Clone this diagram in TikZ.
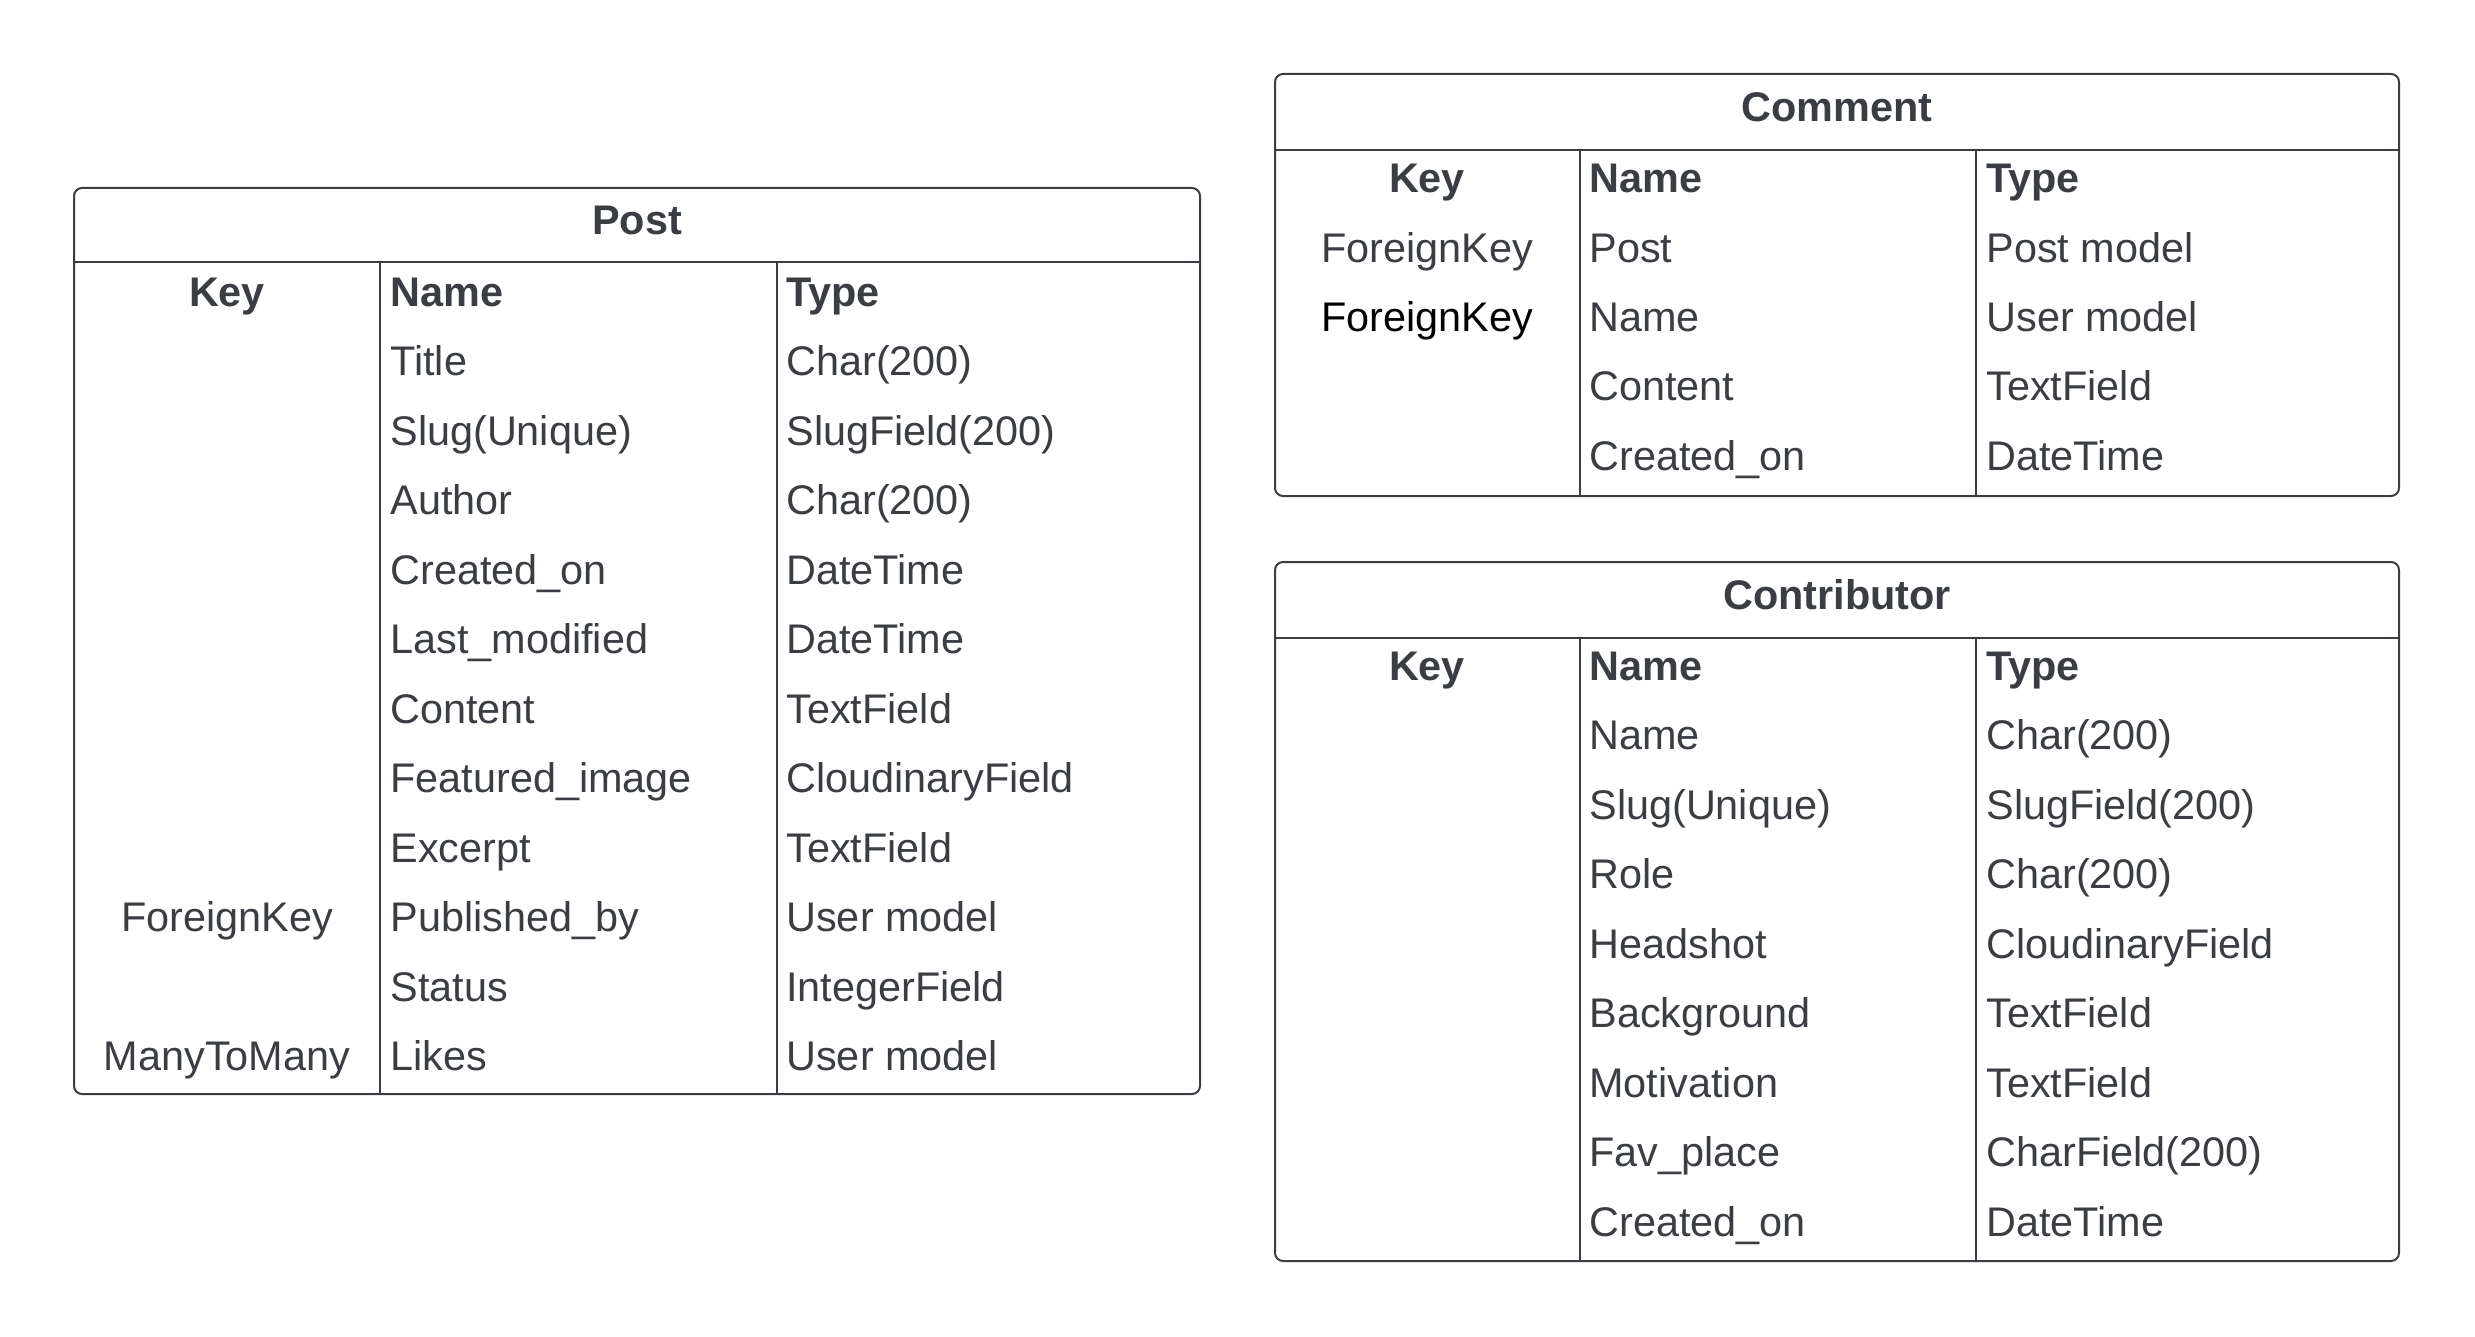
\documentclass[tikz,border=0pt]{standalone}
\usepackage{fontspec}
\setmainfont{Liberation Sans}
\usepackage{xcolor}
\definecolor{lucidgrey}{RGB}{58,61,66}
\usepackage{tikz}
\usetikzlibrary{positioning}

\begin{document}
\begin{tikzpicture}[
    % GLOBAL CFG
    x=0.5pt, y=-0.5pt,
    font=\fontsize{20.7}{24}\selectfont,
    text=lucidgrey,
    % Styles
    frame/.style={% For the table boxes
        draw=lucidgrey,
        line width=1pt,
        rounded corners=4pt,
        },
    rule/.style={% For the inner lines
        draw=lucidgrey,
        line width=0.9pt,
        },
    title/.style={% Table name
        font=\fontsize{20.7}{24}\selectfont\bfseries,
        inner sep=0pt,
        },
    head/.style={% Column heads
        font=\fontsize{20.7}{24}\selectfont\bfseries,
        inner sep=0pt,
        anchor=mid west,
        yshift=-4.5pt,
        },
    keycell/.style={% Key column, centred
        inner sep=0pt,
        anchor=mid,
        yshift=-4.5pt,
        },
    cell/.style={% Name and Type columns
        inner sep=0pt,
        anchor=mid west,
        yshift=-4.5pt,
        },
    ]
\useasboundingbox (0,0) rectangle (2475,1337);

%Post table
    \draw [frame] (74,188) rectangle (1200,1094);
    \draw [rule] (74,262) -- (1200,262);
    \draw [rule] (380,262) -- (380,1094);
    \draw [rule] (777,262) -- (777,1094);
    \node [title] (post) at (637,220) {Post};

    % heads
    \node [head, anchor=mid] (pk0) at (227,292) {Key};
    \node [head] (pn0) at (390,292) {Name};
    \node [head] (pt0) at (786,292) {Type};

    % rows
    \node [cell] (pn1) at (390,361) {Title};
    \node [cell] (pt1) at (786,361) {Char(200)};
    \node [cell] (pn2) at (390,431) {Slug(Unique)};
    \node [cell] (pt2) at (786,431) {SlugField(200)};
    \node [cell] (pn3) at (390,500) {Author};
    \node [cell] (pt3) at (786,500) {Char(200)};
    \node [cell] (pn4) at (390,570) {Created\_on};
    \node [cell] (pt4) at (786,570) {DateTime};
    \node [cell] (pn5) at (390,639) {Last\_modified};
    \node [cell] (pt5) at (786,639) {DateTime};
    \node [cell] (pn6) at (390,709) {Content};
    \node [cell] (pt6) at (786,709) {TextField};
    \node [cell] (pn7) at (390,778) {Featured\_image};
    \node [cell] (pt7) at (786,778) {CloudinaryField};
    \node [cell] (pn8) at (390,848) {Excerpt};
    \node [cell] (pt8) at (786,848) {TextField};
    \node [keycell] (pk9) at (227,917) {ForeignKey};
    \node [cell] (pn9) at (390,917) {Published\_by};
    \node [cell] (pt9) at (786,917) {User model};
    \node [cell] (pn10) at (390,987) {Status};
    \node [cell] (pt10) at (786,987) {IntegerField};
    \node [keycell] (pk11) at (227,1056) {ManyToMany};
    \node [cell] (pn11) at (390,1056) {Likes};
    \node [cell] (pt11) at (786,1056) {User model};

%Comment table
    \draw [frame] (1275,74) rectangle (2399,496);
    \draw [rule] (1275,150) -- (2399,150);
    \draw [rule] (1580,150) -- (1580,496);
    \draw [rule] (1976,150) -- (1976,496);
    \node [title] (comment) at (1837,107) {Comment};

    % heads
    \node [head, anchor=mid] (ck0) at (1427,178) {Key};
    \node [head] (cn0) at (1589,178) {Name};
    \node [head] (ct0) at (1986,178) {Type};

    % rows
    \node [keycell] (ck1) at (1427,248) {ForeignKey};
    \node [cell] (cn1) at (1589,248) {Post};
    \node [cell] (ct1) at (1986,248) {Post model};
    \node [keycell, text=black] (ck2) at (1427,317) {ForeignKey};
    \node [cell] (cn2) at (1589,317) {Name};
    \node [cell] (ct2) at (1986,317) {User model};
    \node [cell] (cn3) at (1589,386) {Content};
    \node [cell] (ct3) at (1986,386) {TextField};
    \node [cell] (cn4) at (1589,456) {Created\_on};
    \node [cell] (ct4) at (1986,456) {DateTime};

%Contributor table
    \draw [frame] (1275,562) rectangle (2399,1261);
    \draw [rule] (1275,638) -- (2399,638);
    \draw [rule] (1580,638) -- (1580,1261);
    \draw [rule] (1976,638) -- (1976,1261);
    \node [title] (contrib) at (1837,595) {Contributor};

    % heads
    \node [head, anchor=mid] (rk0) at (1427,666) {Key};
    \node [head] (rn0) at (1589,666) {Name};
    \node [head] (rt0) at (1986,666) {Type};

    % rows
    \node [cell] (rn1) at (1589,735) {Name};
    \node [cell] (rt1) at (1986,735) {Char(200)};
    \node [cell] (rn2) at (1589,805) {Slug(Unique)};
    \node [cell] (rt2) at (1986,805) {SlugField(200)};
    \node [cell] (rn3) at (1589,874) {Role};
    \node [cell] (rt3) at (1986,874) {Char(200)};
    \node [cell] (rn4) at (1589,944) {Headshot};
    \node [cell] (rt4) at (1986,944) {CloudinaryField};
    \node [cell] (rn5) at (1589,1013) {Background};
    \node [cell] (rt5) at (1986,1013) {TextField};
    \node [cell] (rn6) at (1589,1083) {Motivation};
    \node [cell] (rt6) at (1986,1083) {TextField};
    \node [cell] (rn7) at (1589,1152) {Fav\_place};
    \node [cell] (rt7) at (1986,1152) {CharField(200)};
    \node [cell] (rn8) at (1589,1222) {Created\_on};
    \node [cell] (rt8) at (1986,1222) {DateTime};

\end{tikzpicture}
\end{document}
